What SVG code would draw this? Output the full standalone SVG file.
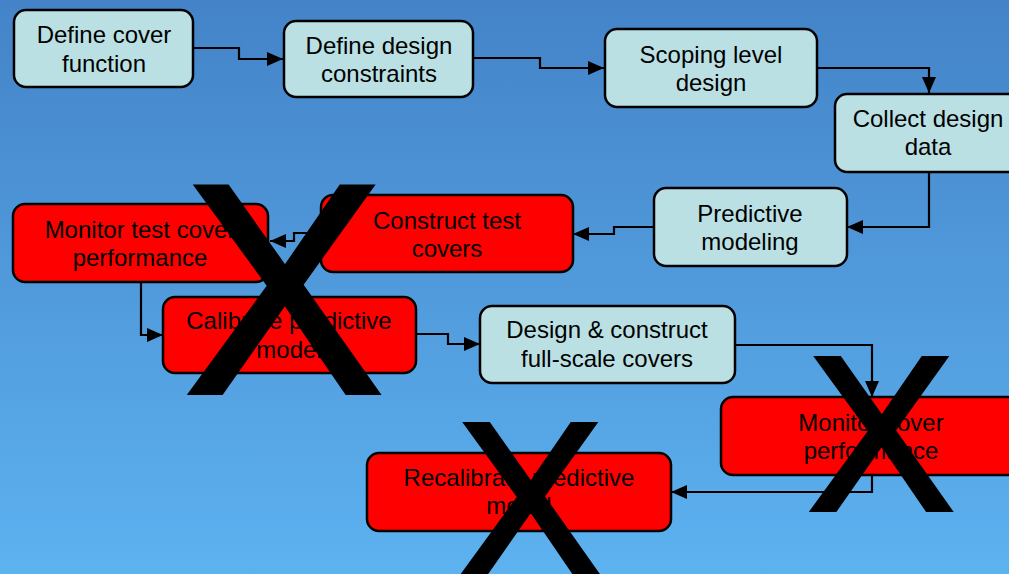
<svg xmlns="http://www.w3.org/2000/svg" width="1009" height="574" viewBox="0 0 1009 574">
  <defs>
    <linearGradient id="bg" x1="0" y1="0" x2="0" y2="1">
      <stop offset="0" stop-color="#4483c8"/>
      <stop offset="1" stop-color="#5db2f0"/>
    </linearGradient>
    <marker id="arrow" viewBox="0 0 16 14" refX="16" refY="7" markerWidth="16" markerHeight="14" markerUnits="userSpaceOnUse" orient="auto">
      <path d="M0 0 L16 7 L0 14 Z" fill="#000"/>
    </marker>
  </defs>
  <style>
    .box { stroke: #000; stroke-width: 2.5; }
    .todo { fill: #bae0e4; }
    .dropped { fill: #ff0000; }
    .label { font-family: "Liberation Sans", Arial, sans-serif; font-size: 24px; fill: #000; text-anchor: middle; }
    .link { fill: none; stroke: #000; stroke-width: 2.2; marker-end: url(#arrow); }
    .cross { font-family: "Liberation Sans", Arial, sans-serif; fill: #000; stroke: #000; stroke-width: 4; stroke-linejoin: miter; text-anchor: middle; }
  </style>

  <rect x="0" y="0" width="1009" height="574" fill="url(#bg)"/>

  <g id="connectors">
    <path class="link" d="M193 48 H239 V59 H283"/>
    <path class="link" d="M473 58 H540 V68 H604"/>
    <path class="link" d="M817 68 H929 V93"/>
    <path class="link" d="M929 172 V227 H847"/>
    <path class="link" d="M654 227 H614 V234 H573"/>
    <path class="link" d="M321 233 H294 V241 H270"/>
    <path class="link" d="M141 282 V335 H163"/>
    <path class="link" d="M416 334 H448 V344 H480"/>
    <path class="link" d="M735 345 H872 V397"/>
    <path class="link" d="M872 475 V492 H671"/>
  </g>

  <g id="define-cover-function">
    <rect class="box todo" x="14" y="10" width="179" height="77" rx="12"/>
    <text class="label" x="104" y="43">Define cover</text>
    <text class="label" x="104" y="72">function</text>
  </g>

  <g id="define-design-constraints">
    <rect class="box todo" x="284" y="21" width="189" height="76" rx="12"/>
    <text class="label" x="379" y="54">Define design</text>
    <text class="label" x="379" y="82">constraints</text>
  </g>

  <g id="scoping-level-design">
    <rect class="box todo" x="605" y="29" width="212" height="78" rx="12"/>
    <text class="label" x="711" y="63">Scoping level</text>
    <text class="label" x="711" y="91">design</text>
  </g>

  <g id="collect-design-data">
    <rect class="box todo" x="835" y="94" width="200" height="78" rx="12"/>
    <text class="label" x="928" y="127">Collect design</text>
    <text class="label" x="928" y="155">data</text>
  </g>

  <g id="predictive-modeling">
    <rect class="box todo" x="654" y="188" width="193" height="78" rx="12"/>
    <text class="label" x="750" y="222">Predictive</text>
    <text class="label" x="750" y="250">modeling</text>
  </g>

  <g id="construct-test-covers">
    <rect class="box dropped" x="321" y="195" width="252" height="77" rx="12"/>
    <text class="label" x="447" y="229">Construct test</text>
    <text class="label" x="447" y="257">covers</text>
  </g>

  <g id="monitor-test-cover-performance">
    <rect class="box dropped" x="13" y="204" width="255" height="78" rx="12"/>
    <text class="label" x="140" y="238">Monitor test cover</text>
    <text class="label" x="140" y="266">performance</text>
  </g>

  <g id="calibrate-predictive-model">
    <rect class="box dropped" x="163" y="297" width="253" height="76" rx="12"/>
    <text class="label" x="289" y="329">Calibrate predictive</text>
    <text class="label" x="289" y="358">model</text>
  </g>

  <g id="design-construct-full-scale">
    <rect class="box todo" x="480" y="306" width="255" height="77" rx="12"/>
    <text class="label" x="607" y="338">Design &amp; construct</text>
    <text class="label" x="607" y="367">full-scale covers</text>
  </g>

  <g id="monitor-cover-performance">
    <rect class="box dropped" x="721" y="397" width="310" height="78" rx="12"/>
    <text class="label" x="871" y="431">Monitor cover</text>
    <text class="label" x="871" y="459">performance</text>
  </g>

  <g id="recalibrate-predictive-model">
    <rect class="box dropped" x="367" y="453" width="304" height="78" rx="12"/>
    <text class="label" x="519" y="486">Recalibrate predictive</text>
    <text class="label" x="519" y="514">model</text>
  </g>

  <!-- strike-through crosses over dropped steps -->
  <g id="crosses">
    <text class="cross" x="284" y="393" font-size="300">X</text>
    <text class="cross" x="881" y="510" font-size="220">X</text>
    <text class="cross" x="530" y="576" font-size="220">X</text>
  </g>
</svg>
